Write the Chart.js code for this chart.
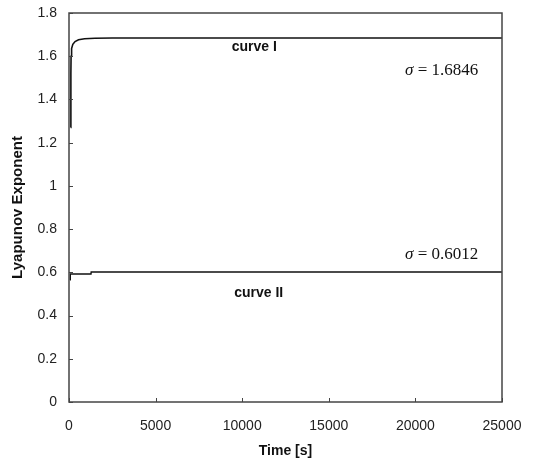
<!DOCTYPE html>
<html>
<head>
<meta charset="utf-8">
<script src="https://cdn.jsdelivr.net/npm/chart.js@4.4.0/dist/chart.umd.min.js"></script>
<style>
  html, body { margin: 0; padding: 0; background: #fff; }
  #wrap { width: 547px; height: 464px; }
</style>
</head>
<body>
<div id="wrap"><canvas id="chart" width="547" height="464"></canvas></div>
<script>
// Curve I (time in s, Lyapunov exponent)
const curve1Time  = [100, 105, 112, 120, 150, 220, 350, 550, 900, 1500, 2500, 25000];
const curve1Value = [1.27, 1.40, 1.52, 1.60, 1.635, 1.655, 1.668, 1.676, 1.681, 1.683, 1.6846, 1.6846];

// Curve II
const curve2Time  = [60, 70, 80, 1270, 1280, 25000];
const curve2Value = [0.565, 0.585, 0.592, 0.592, 0.6012, 0.6012];

// axis ticks
const xTicks = [0, 5000, 10000, 15000, 20000, 25000];
const yTicks = [0, 0.2, 0.4, 0.6, 0.8, 1, 1.2, 1.4, 1.6, 1.8];

// text labels placed in data coordinates
const curveLabels = [
  { text: 'curve I',  t: 10700, v: 1.64 },
  { text: 'curve II', t: 10950, v: 0.505 }
];
const sigmaLabels = [
  { value: '1.6846', t: 19400, v: 1.513 },
  { value: '0.6012', t: 19400, v: 0.662 }
];

function toPoints(xs, ys) {
  return xs.map((x, i) => ({ x: x, y: ys[i] }));
}

// box around the plot, inward ticks and text labels
const framePlugin = {
  id: 'frame',
  afterDraw(chart) {
    const ctx = chart.ctx;
    const a = chart.chartArea;
    const xs = chart.scales.x;
    const ys = chart.scales.y;
    ctx.save();
    ctx.strokeStyle = '#444';
    ctx.lineWidth = 1.5;
    ctx.strokeRect(a.left, a.top, a.right - a.left, a.bottom - a.top);

    ctx.lineWidth = 1;
    ctx.beginPath();
    yTicks.forEach(v => {
      const y = Math.round(ys.getPixelForValue(v)) + 0.5;
      ctx.moveTo(a.left, y);
      ctx.lineTo(a.left + 4, y);
    });
    xTicks.forEach(v => {
      const x = Math.round(xs.getPixelForValue(v)) + 0.5;
      ctx.moveTo(x, a.bottom);
      ctx.lineTo(x, a.bottom - 4);
    });
    ctx.stroke();

    ctx.fillStyle = '#111';
    ctx.font = 'bold 14px "Liberation Sans", Arial, sans-serif';
    ctx.textAlign = 'center';
    ctx.textBaseline = 'middle';
    curveLabels.forEach(l => {
      ctx.fillText(l.text, xs.getPixelForValue(l.t), ys.getPixelForValue(l.v));
    });

    ctx.textAlign = 'left';
    ctx.textBaseline = 'alphabetic';
    sigmaLabels.forEach(l => {
      let x = xs.getPixelForValue(l.t);
      const y = ys.getPixelForValue(l.v);
      ctx.font = 'italic 17px "Liberation Serif", "Times New Roman", serif';
      ctx.fillText('\u03C3', x, y);
      x += ctx.measureText('\u03C3').width;
      ctx.font = '17px "Liberation Serif", "Times New Roman", serif';
      ctx.fillText(' = ' + l.value, x, y);
    });
    ctx.restore();
  }
};

const tickFont = { family: '"Liberation Sans", Arial, sans-serif', size: 14 };
const titleFont = { family: '"Liberation Sans", Arial, sans-serif', size: 15, weight: 'bold' };

new Chart(document.getElementById('chart'), {
  type: 'scatter',
  data: {
    datasets: [
      {
        label: 'curve I',
        data: toPoints(curve1Time, curve1Value),
        showLine: true,
        borderColor: '#111',
        borderWidth: 1.6,
        pointRadius: 0,
        tension: 0
      },
      {
        label: 'curve II',
        data: toPoints(curve2Time, curve2Value),
        showLine: true,
        borderColor: '#111',
        borderWidth: 1.4,
        pointRadius: 0,
        tension: 0
      }
    ]
  },
  options: {
    responsive: false,
    animation: false,
    layout: { padding: { left: 0, right: 45, top: 13, bottom: 0 } },
    plugins: {
      legend: { display: false },
      tooltip: { enabled: false }
    },
    scales: {
      x: {
        type: 'linear',
        min: 0,
        max: 25000,
        afterBuildTicks: s => { s.ticks = xTicks.map(v => ({ value: v })); },
        afterFit: s => { s.height = 62; s.paddingLeft = 0; s.paddingRight = 0; },
        grid: { display: false, drawTicks: false },
        border: { display: false },
        ticks: {
          font: tickFont,
          color: '#222',
          padding: 16,
          maxRotation: 0,
          callback: v => String(v)
        },
        title: {
          display: true,
          text: 'Time [s]',
          font: { family: titleFont.family, size: 14, weight: 'bold' },
          color: '#111',
          padding: { top: 0, bottom: 4 }
        }
      },
      y: {
        type: 'linear',
        min: 0,
        max: 1.8,
        afterBuildTicks: s => { s.ticks = yTicks.map(v => ({ value: v })); },
        afterFit: s => { s.width = 69; s.paddingTop = 0; s.paddingBottom = 0; },
        grid: { display: false, drawTicks: false },
        border: { display: false },
        ticks: {
          font: tickFont,
          color: '#222',
          padding: 12,
          callback: v => String(Math.round(v * 10) / 10)
        },
        title: {
          display: true,
          text: 'Lyapunov Exponent',
          font: titleFont,
          color: '#111',
          padding: { top: 9, bottom: 0 }
        }
      }
    }
  },
  plugins: [framePlugin]
});
</script>
</body>
</html>
